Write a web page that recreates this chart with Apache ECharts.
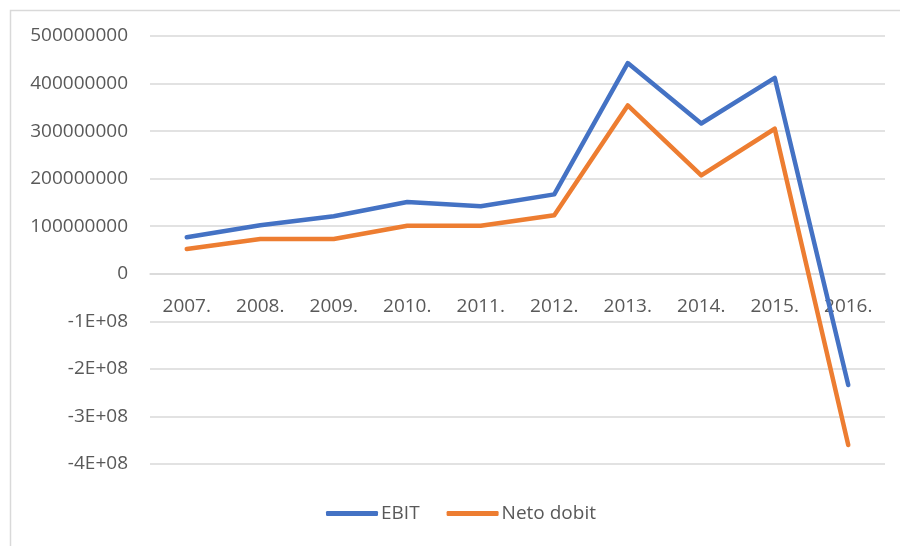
<!DOCTYPE html>
<html>
<head>
<meta charset="utf-8">
<script src="https://cdn.jsdelivr.net/npm/echarts@6/dist/echarts.min.js"></script>
<style>html,body{margin:0;padding:0;background:#fff;}#c{width:900px;height:546px;}</style>
</head>
<body>
<div id="c"></div>
<script>
const categories = ['2007.', '2008.', '2009.', '2010.', '2011.', '2012.', '2013.', '2014.', '2015.', '2016.'];
const ebit = [77000000, 102000000, 121000000, 151000000, 142000000, 167000000, 443000000, 316000000, 412000000, -234000000];
const netoDobit = [52000000, 73000000, 73000000, 101000000, 101000000, 123000000, 354000000, 207000000, 305000000, -360000000];
const yMin = -400000000, yMax = 500000000, yInterval = 100000000;
const yTickLabels = ['-4E+08', '-3E+08', '-2E+08', '-1E+08', '0', '100000000', '200000000', '300000000', '400000000', '500000000'];

const font = '"Open Sans", "Liberation Sans", sans-serif';
const gridTop = 36, gridBottom = 82, H = 546;
const gridHeight = H - gridTop - gridBottom;
// move the category axis (labels) up to the zero line, like Excel
const xOffset = -gridHeight * (0 - yMin) / (yMax - yMin);

const chart = echarts.init(document.getElementById('c'));
chart.setOption({
  animation: false,
  backgroundColor: '#fff',
  graphic: [{
    type: 'rect', left: 8, top: 8, silent: true,
    shape: { width: 1000, height: 1000 },
    style: { fill: 'none', stroke: '#d9d9d9', lineWidth: 1.5 }
  }],
  grid: { left: 150, right: 15, top: gridTop, bottom: gridBottom, containLabel: false },
  legend: {
    left: 321, top: 499,
    itemWidth: 52, itemHeight: 5, itemGap: 27,
    icon: 'roundRect',
    textStyle: { fontFamily: font, fontSize: 19, color: '#595959', padding: [0, 0, 0, -2] },
    data: ['EBIT', 'Neto dobit']
  },
  xAxis: {
    type: 'category',
    data: categories,
    boundaryGap: true,
    position: 'bottom',
    offset: xOffset,
    axisLine: { onZero: false, lineStyle: { color: '#d9d9d9', width: 1.5 } },
    axisTick: { show: false },
    axisLabel: { margin: 23, fontFamily: font, fontSize: 19, color: '#595959' },
    splitLine: { show: false }
  },
  yAxis: {
    type: 'value',
    min: yMin, max: yMax, interval: yInterval,
    axisLine: { show: false },
    axisTick: { show: false },
    axisLabel: {
      margin: 22, fontFamily: font, fontSize: 19, color: '#595959',
      formatter: function (v) { return yTickLabels[Math.round((v - yMin) / yInterval)]; }
    },
    splitLine: { lineStyle: { color: '#d9d9d9', width: 1.5 } }
  },
  series: [
    { name: 'EBIT', type: 'line', data: ebit, showSymbol: false, symbol: 'none',
      lineStyle: { color: '#4472C4', width: 4.5, cap: 'round', join: 'round' },
      itemStyle: { color: '#4472C4' } },
    { name: 'Neto dobit', type: 'line', data: netoDobit, showSymbol: false, symbol: 'none',
      lineStyle: { color: '#ED7D31', width: 4.5, cap: 'round', join: 'round' },
      itemStyle: { color: '#ED7D31' } }
  ]
});
</script>
</body>
</html>
